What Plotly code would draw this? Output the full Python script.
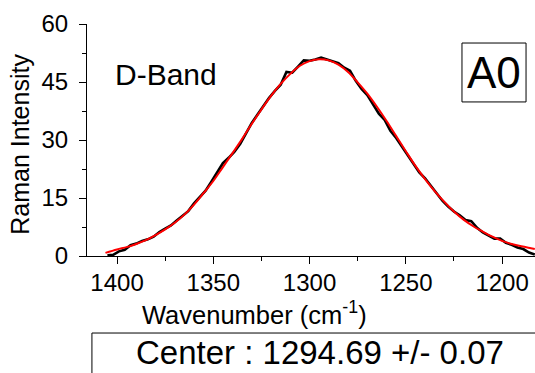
import plotly.graph_objects as go

# Fit curve (red)
fit_x = [1406, 1400, 1395, 1390, 1385, 1380, 1375, 1370, 1365, 1360, 1355, 1350,
         1345, 1340, 1335, 1330, 1325, 1320, 1315, 1310, 1305, 1300, 1295, 1290,
         1285, 1280, 1275, 1270, 1265, 1260, 1255, 1250, 1245, 1240, 1235, 1230,
         1225, 1220, 1215, 1210, 1205, 1200, 1195, 1190, 1185, 1183]
fit_y = [0.8, 1.7, 2.3, 3.1, 4.1, 5.4, 6.9, 8.6, 10.7, 13.3, 16.3, 19.4,
         23.0, 26.6, 30.3, 34.2, 37.9, 41.4, 44.5, 47.1, 49.2, 50.4, 50.9, 50.6,
         49.5, 47.6, 44.9, 42.0, 38.6, 34.9, 31.0, 27.1, 23.3, 19.9, 16.8, 14.0,
         11.5, 9.4, 7.7, 6.3, 5.0, 3.9, 3.1, 2.5, 2.0, 1.8]

data_x = [1405, 1402, 1399, 1396, 1393, 1390, 1387, 1384, 1381, 1378, 1375, 1372,
          1369, 1366, 1363, 1360, 1357, 1354, 1351, 1348, 1345, 1342, 1339, 1336,
          1333, 1330, 1327, 1324, 1321, 1318, 1315, 1312, 1309, 1306, 1303, 1300,
          1297, 1294, 1291, 1288, 1285, 1282, 1279, 1276, 1273, 1270, 1267, 1264,
          1261, 1258, 1255, 1252, 1249, 1246, 1243, 1240, 1237, 1234, 1231, 1228,
          1225, 1222, 1219, 1216, 1213, 1210, 1207, 1204, 1201, 1198, 1195, 1192,
          1189, 1186, 1183]
data_y = [0.2, 0.3, 1.2, 1.6, 2.8, 3.2, 3.9, 4.3, 5.0, 6.2, 7.1, 7.9,
          9.2, 10.3, 11.6, 13.6, 15.4, 16.9, 19.2, 21.6, 24.0, 25.4, 27.0, 29.0,
          31.9, 34.4, 36.6, 38.9, 40.9, 42.7, 44.3, 47.6, 47.4, 49.0, 50.6, 50.5,
          50.8, 51.3, 50.9, 50.3, 49.9, 48.7, 47.9, 45.3, 43.2, 41.6, 39.1, 36.8,
          35.2, 32.4, 30.5, 28.3, 26.3, 23.9, 21.6, 20.1, 18.2, 16.2, 14.3, 12.8,
          11.5, 10.5, 9.3, 9.0, 7.3, 6.1, 5.2, 4.5, 4.5, 3.4, 2.9, 2.2,
          1.8, 0.9, 0.4]

x_ticks = [1400, 1350, 1300, 1250, 1200]
y_ticks = [0, 15, 30, 45, 60]

FONT = "Liberation Sans, Arial, sans-serif"

fig = go.Figure()
fig.add_trace(go.Scatter(x=data_x, y=data_y, mode="lines",
                         line=dict(color="black", width=2.6), showlegend=False))
fig.add_trace(go.Scatter(x=fit_x, y=fit_y, mode="lines", line_shape="spline",
                         line=dict(color="#ff0000", width=2), showlegend=False))

fig.update_layout(
    width=535, height=373,
    margin=dict(l=87, r=0, t=24, b=117),
    paper_bgcolor="white", plot_bgcolor="white",
    font=dict(family=FONT, color="black"),
    xaxis=dict(range=[1415.6, 1182.9], tickvals=x_ticks, ticks="outside",
               ticklen=7, tickwidth=1, tickcolor="black", showline=True,
               linecolor="black", linewidth=1, showgrid=False, zeroline=False,
               tickfont=dict(size=24, family=FONT), ticklabelstandoff=-2,
               minor=dict(dtick=25, tick0=1375, ticks="outside", ticklen=4,
                          tickcolor="black", tickwidth=1, showgrid=False)),
    yaxis=dict(range=[0, 60], tickvals=y_ticks, ticks="outside",
               ticklen=7, tickwidth=1, tickcolor="black", showline=True,
               linecolor="black", linewidth=1, showgrid=False, zeroline=False,
               tickfont=dict(size=24, family=FONT), ticklabelstandoff=6,
               minor=dict(dtick=7.5, tick0=0, ticks="outside", ticklen=4,
                          tickcolor="black", tickwidth=1, showgrid=False)),
    annotations=[
        dict(text="Raman Intensity", textangle=-90, xref="paper", yref="paper",
             x=-0.15, y=0.483, xanchor="center", yanchor="middle",
             showarrow=False, font=dict(size=25, family=FONT)),
        dict(text="Wavenumber (cm<sup>-1</sup>)", xref="paper", yref="paper",
             x=0.373, y=-0.245, xanchor="center", yanchor="middle",
             showarrow=False, font=dict(size=25.5, family=FONT)),
        dict(text="D-Band", xref="paper", yref="paper", x=0.058, y=0.784,
             xanchor="left", yanchor="middle", showarrow=False,
             font=dict(size=30, family=FONT)),
        dict(text="A0", xref="paper", yref="paper", x=0.9085, y=0.789,
             xanchor="center", yanchor="middle", showarrow=False,
             font=dict(size=44, family=FONT)),
        dict(text="Center : 1294.69 +/- 0.07", xref="paper", yref="paper",
             x=0.52, y=-0.416, xanchor="center", yanchor="middle",
             showarrow=False, font=dict(size=33, family=FONT)),
    ],
    shapes=[
        dict(type="rect", xref="paper", yref="paper", x0=0.837, x1=0.980,
             y0=0.664, y1=0.918, line=dict(color="black", width=1)),
        dict(type="rect", xref="paper", yref="paper", x0=0.011, x1=1.05,
             y0=-0.578, y1=-0.332, line=dict(color="black", width=1)),
    ],
)

fig.write_html("out.html")
